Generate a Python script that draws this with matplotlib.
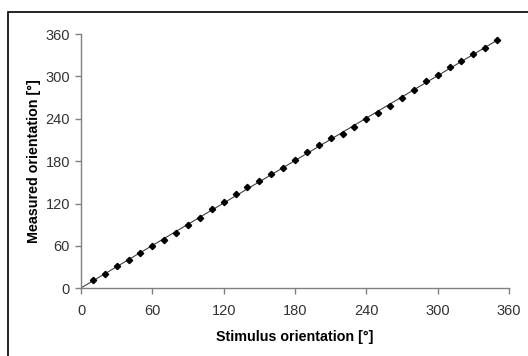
import numpy as np
import matplotlib.pyplot as plt
from matplotlib.patches import Rectangle

plt.rcParams['font.family'] = ['Liberation Sans', 'DejaVu Sans']

# stimulus orientation (deg) and measured orientation (deg)
stimulus = [10, 20, 30, 40, 50, 60, 70, 80, 90, 100, 110, 120, 130, 140, 150,
            160, 170, 180, 190, 200, 210, 220, 230, 240, 250, 260, 270, 280,
            290, 300, 310, 320, 330, 340, 350]
measured = [11.8, 19.8, 31.2, 40.2, 50.1, 60.0, 68.5, 78.4, 89.3, 99.2, 112.0,
            122.8, 133.2, 143.0, 151.6, 162.0, 170.5, 181.4, 192.7, 202.6,
            213.0, 218.7, 228.6, 239.0, 248.5, 258.4, 269.2, 280.6, 293.3,
            301.4, 312.7, 321.7, 332.0, 340.1, 351.4]
ticks = [0, 60, 120, 180, 240, 300, 360]

fig = plt.figure(figsize=(5.28, 3.56), dpi=100)
ax = fig.add_axes([81 / 528, 1 - 288.3 / 356, 428 / 528, 254.3 / 356])

# linear trend line through the data
k, b = np.polyfit(stimulus, measured, 1)
xs = np.array([0, stimulus[-1]])
ax.plot(xs, k * xs + b, color='#404040', lw=0.8, zorder=2)
ax.plot(stimulus, measured, 'D', color='black', markersize=3.2, zorder=3)

ax.set_xlim(0, 360)
ax.set_ylim(0, 360)
ax.set_xticks(ticks)
ax.set_yticks(ticks)
for s in ['top', 'right']:
    ax.spines[s].set_visible(False)
for s in ['left', 'bottom']:
    ax.spines[s].set_color('#808080')
    ax.spines[s].set_linewidth(1.0)
ax.tick_params(colors='#808080', length=4, width=1, labelsize=10.5,
               labelcolor='#333333')
ax.tick_params(axis='x', pad=7)
ax.tick_params(axis='y', pad=4)

ax.set_xlabel('Stimulus orientation [°]', fontsize=10.3, fontweight='bold',
              labelpad=9)
ax.set_ylabel('Measured orientation [°]', fontsize=10.3, fontweight='bold',
              labelpad=3)

# outer frame, clipped at right and bottom
fig.patches.append(Rectangle((7.5 / 528, -0.05), 1.1, 1 - 11.5 / 356 + 0.05,
                             transform=fig.transFigure, fill=False,
                             edgecolor='black', lw=1.2))

fig.savefig('out.png', dpi=100)
